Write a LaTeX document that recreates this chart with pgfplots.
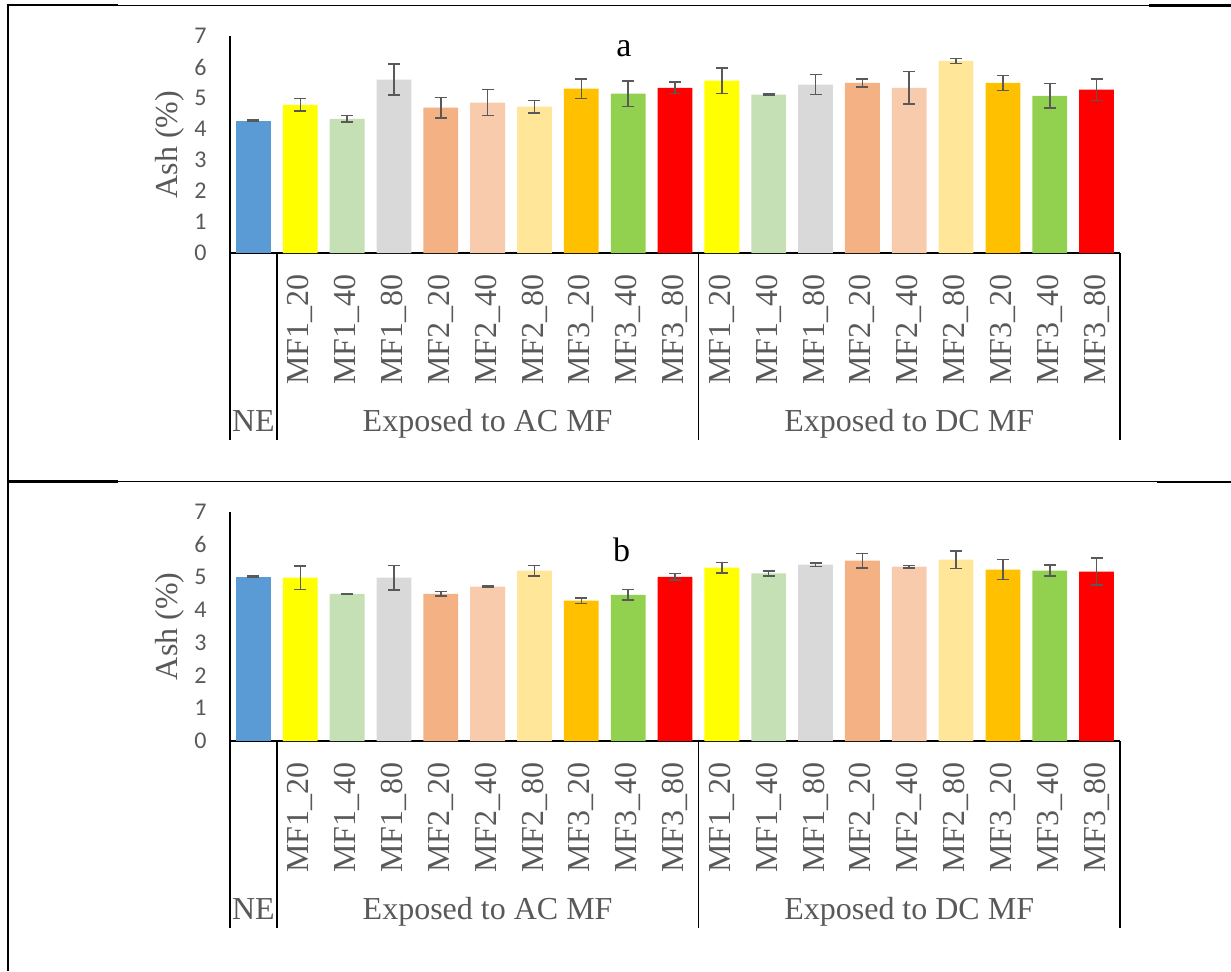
\documentclass[border=0pt]{standalone}
\usepackage{pgfplots}
\pgfplotsset{compat=1.18}
\usepackage{fontspec}
\setmainfont{Liberation Serif}
\newfontfamily\calibri{Carlito}
\newfontfamily\timesf{Liberation Serif}
\definecolor{txt}{HTML}{595959}
\definecolor{cNE}{HTML}{5B9BD5}
\definecolor{cA}{HTML}{FFFF00}
\definecolor{cB}{HTML}{C5E0B4}
\definecolor{cC}{HTML}{D9D9D9}
\definecolor{cD}{HTML}{F4B183}
\definecolor{cE}{HTML}{F8CBAD}
\definecolor{cF}{HTML}{FFE699}
\definecolor{cG}{HTML}{FFC000}
\definecolor{cH}{HTML}{92D050}
\definecolor{cI}{HTML}{FF0000}
\pgfplotsset{
  ashpanel/.style={
    scale only axis, width=445pt,
    xmin=-0.5, xmax=18.5, ymin=0, ymax=7,
    axis x line=bottom, axis y line=left,
    axis line style={-, black, line width=0.75pt},
    major tick length=0pt,
    ytick={0,1,2,3,4,5,6,7}, yticklabels={0,1,2,3,4,5,6,7},
    yticklabel style={font=\calibri\fontsize{12}{14}\selectfont, text=txt, inner sep=0pt, anchor=east, xshift=-11.5pt},
    xtick={1,...,18},
    xticklabels={MF1\_20,MF1\_40,MF1\_80,MF2\_20,MF2\_40,MF2\_80,MF3\_20,MF3\_40,MF3\_80,MF1\_20,MF1\_40,MF1\_80,MF2\_20,MF2\_40,MF2\_80,MF3\_20,MF3\_40,MF3\_80},
    xticklabel style={font=\timesf\fontsize{16}{19}\selectfont, text=txt, rotate=90, anchor=east, inner sep=0pt},
    xticklabel shift=10.5pt,
    ylabel={\timesf Ash (\%)},
    ylabel style={font=\timesf\fontsize{16}{19}\selectfont, text=txt, at={(axis description cs:-0.0506,0.5)}, anchor=south, inner sep=0pt},
    clip=false,
  },
  barst/.style={ybar, bar width=17.4pt, bar shift=0pt, draw=none,
    error bars/y dir=both, error bars/y explicit,
    error bars/error bar style={draw=txt, line width=0.75pt},
    error bars/error mark options={rotate=90, mark size=3pt, line width=0.75pt, draw=txt}},
}
\newcommand{\groups}{%
  \draw[line width=0.75pt, black] (axis cs:-0.5,0) -- ++(0pt,-93.5pt);
  \draw[line width=0.75pt, black] (axis cs:0.5,0) -- ++(0pt,-93.5pt);
  \draw[line width=0.75pt, black] (axis cs:9.5,0) -- ++(0pt,-93.5pt);
  \draw[line width=0.75pt, black] (axis cs:18.5,0) -- ++(0pt,-93.5pt);
  \node[anchor=base, text=txt, font=\timesf\fontsize{16}{19}\selectfont] at ([yshift=-89.3pt]axis cs:0,0) {NE};
  \node[anchor=base, text=txt, font=\timesf\fontsize{16}{19}\selectfont] at ([yshift=-89.3pt]axis cs:5,0) {Exposed to AC MF};
  \node[anchor=base, text=txt, font=\timesf\fontsize{16}{19}\selectfont] at ([yshift=-89.3pt]axis cs:14,0) {Exposed to DC MF};
}
\begin{document}
\begin{tikzpicture}
\path[use as bounding box] (0,0) rectangle (615.5pt,485.5pt);
% frame lines
\draw[line width=1pt, black] (3.75pt,0pt) -- (3.75pt,482.9pt);
\draw[line width=0.5pt, black] (59pt,482.9pt) -- (574.5pt,482.9pt);
\draw[line width=1.2pt, black] (3.25pt,482.9pt) -- (59pt,482.9pt);
\draw[line width=1.2pt, black] (574.5pt,482.7pt) -- (615.5pt,482.7pt);
\draw[line width=0.5pt, black] (59pt,244.8pt) -- (578.5pt,244.8pt);
\draw[line width=1.2pt, black] (3.25pt,244.8pt) -- (59pt,244.8pt);
\draw[line width=1.2pt, black] (578.5pt,244.6pt) -- (615.5pt,244.6pt);

% Panel a
\begin{axis}[ashpanel, height=108.5pt, at={(115pt,359pt)}, anchor=south west]
\addplot[barst, fill=cNE] coordinates {(0,4.27) +- (0,0.02)};
\addplot[barst, fill=cA] coordinates {(1,4.78) +- (0,0.20) (10,5.56) +- (0,0.41)};
\addplot[barst, fill=cB] coordinates {(2,4.33) +- (0,0.10) (11,5.11) +- (0,0.02)};
\addplot[barst, fill=cC] coordinates {(3,5.59) +- (0,0.50) (12,5.43) +- (0,0.32)};
\addplot[barst, fill=cD] coordinates {(4,4.69) +- (0,0.33) (13,5.49) +- (0,0.13)};
\addplot[barst, fill=cE] coordinates {(5,4.85) +- (0,0.42) (14,5.33) +- (0,0.52)};
\addplot[barst, fill=cF] coordinates {(6,4.72) +- (0,0.20) (15,6.20) +- (0,0.08)};
\addplot[barst, fill=cG] coordinates {(7,5.30) +- (0,0.32) (16,5.49) +- (0,0.24)};
\addplot[barst, fill=cH] coordinates {(8,5.14) +- (0,0.41) (17,5.07) +- (0,0.40)};
\addplot[barst, fill=cI] coordinates {(9,5.33) +- (0,0.19) (18,5.27) +- (0,0.35)};
\groups
\end{axis}
\node[anchor=base, font=\timesf\fontsize{17}{20}\selectfont] at (312pt,457pt) {a};

% Panel b
\begin{axis}[ashpanel, height=114.75pt, at={(115pt,115pt)}, anchor=south west]
\addplot[barst, fill=cNE] coordinates {(0,5.01) +- (0,0.02)};
\addplot[barst, fill=cA] coordinates {(1,4.98) +- (0,0.36) (10,5.29) +- (0,0.16)};
\addplot[barst, fill=cB] coordinates {(2,4.49) +- (0,0.01) (11,5.11) +- (0,0.07)};
\addplot[barst, fill=cC] coordinates {(3,4.98) +- (0,0.37) (12,5.38) +- (0,0.05)};
\addplot[barst, fill=cD] coordinates {(4,4.49) +- (0,0.07) (13,5.50) +- (0,0.22)};
\addplot[barst, fill=cE] coordinates {(5,4.71) +- (0,0.02) (14,5.32) +- (0,0.04)};
\addplot[barst, fill=cF] coordinates {(6,5.20) +- (0,0.16) (15,5.53) +- (0,0.27)};
\addplot[barst, fill=cG] coordinates {(7,4.28) +- (0,0.08) (16,5.23) +- (0,0.31)};
\addplot[barst, fill=cH] coordinates {(8,4.46) +- (0,0.16) (17,5.20) +- (0,0.17)};
\addplot[barst, fill=cI] coordinates {(9,5.01) +- (0,0.10) (18,5.17) +- (0,0.41)};
\groups
\end{axis}
\node[anchor=base, font=\timesf\fontsize{17}{20}\selectfont] at (310.75pt,205pt) {b};
\end{tikzpicture}
\end{document}
